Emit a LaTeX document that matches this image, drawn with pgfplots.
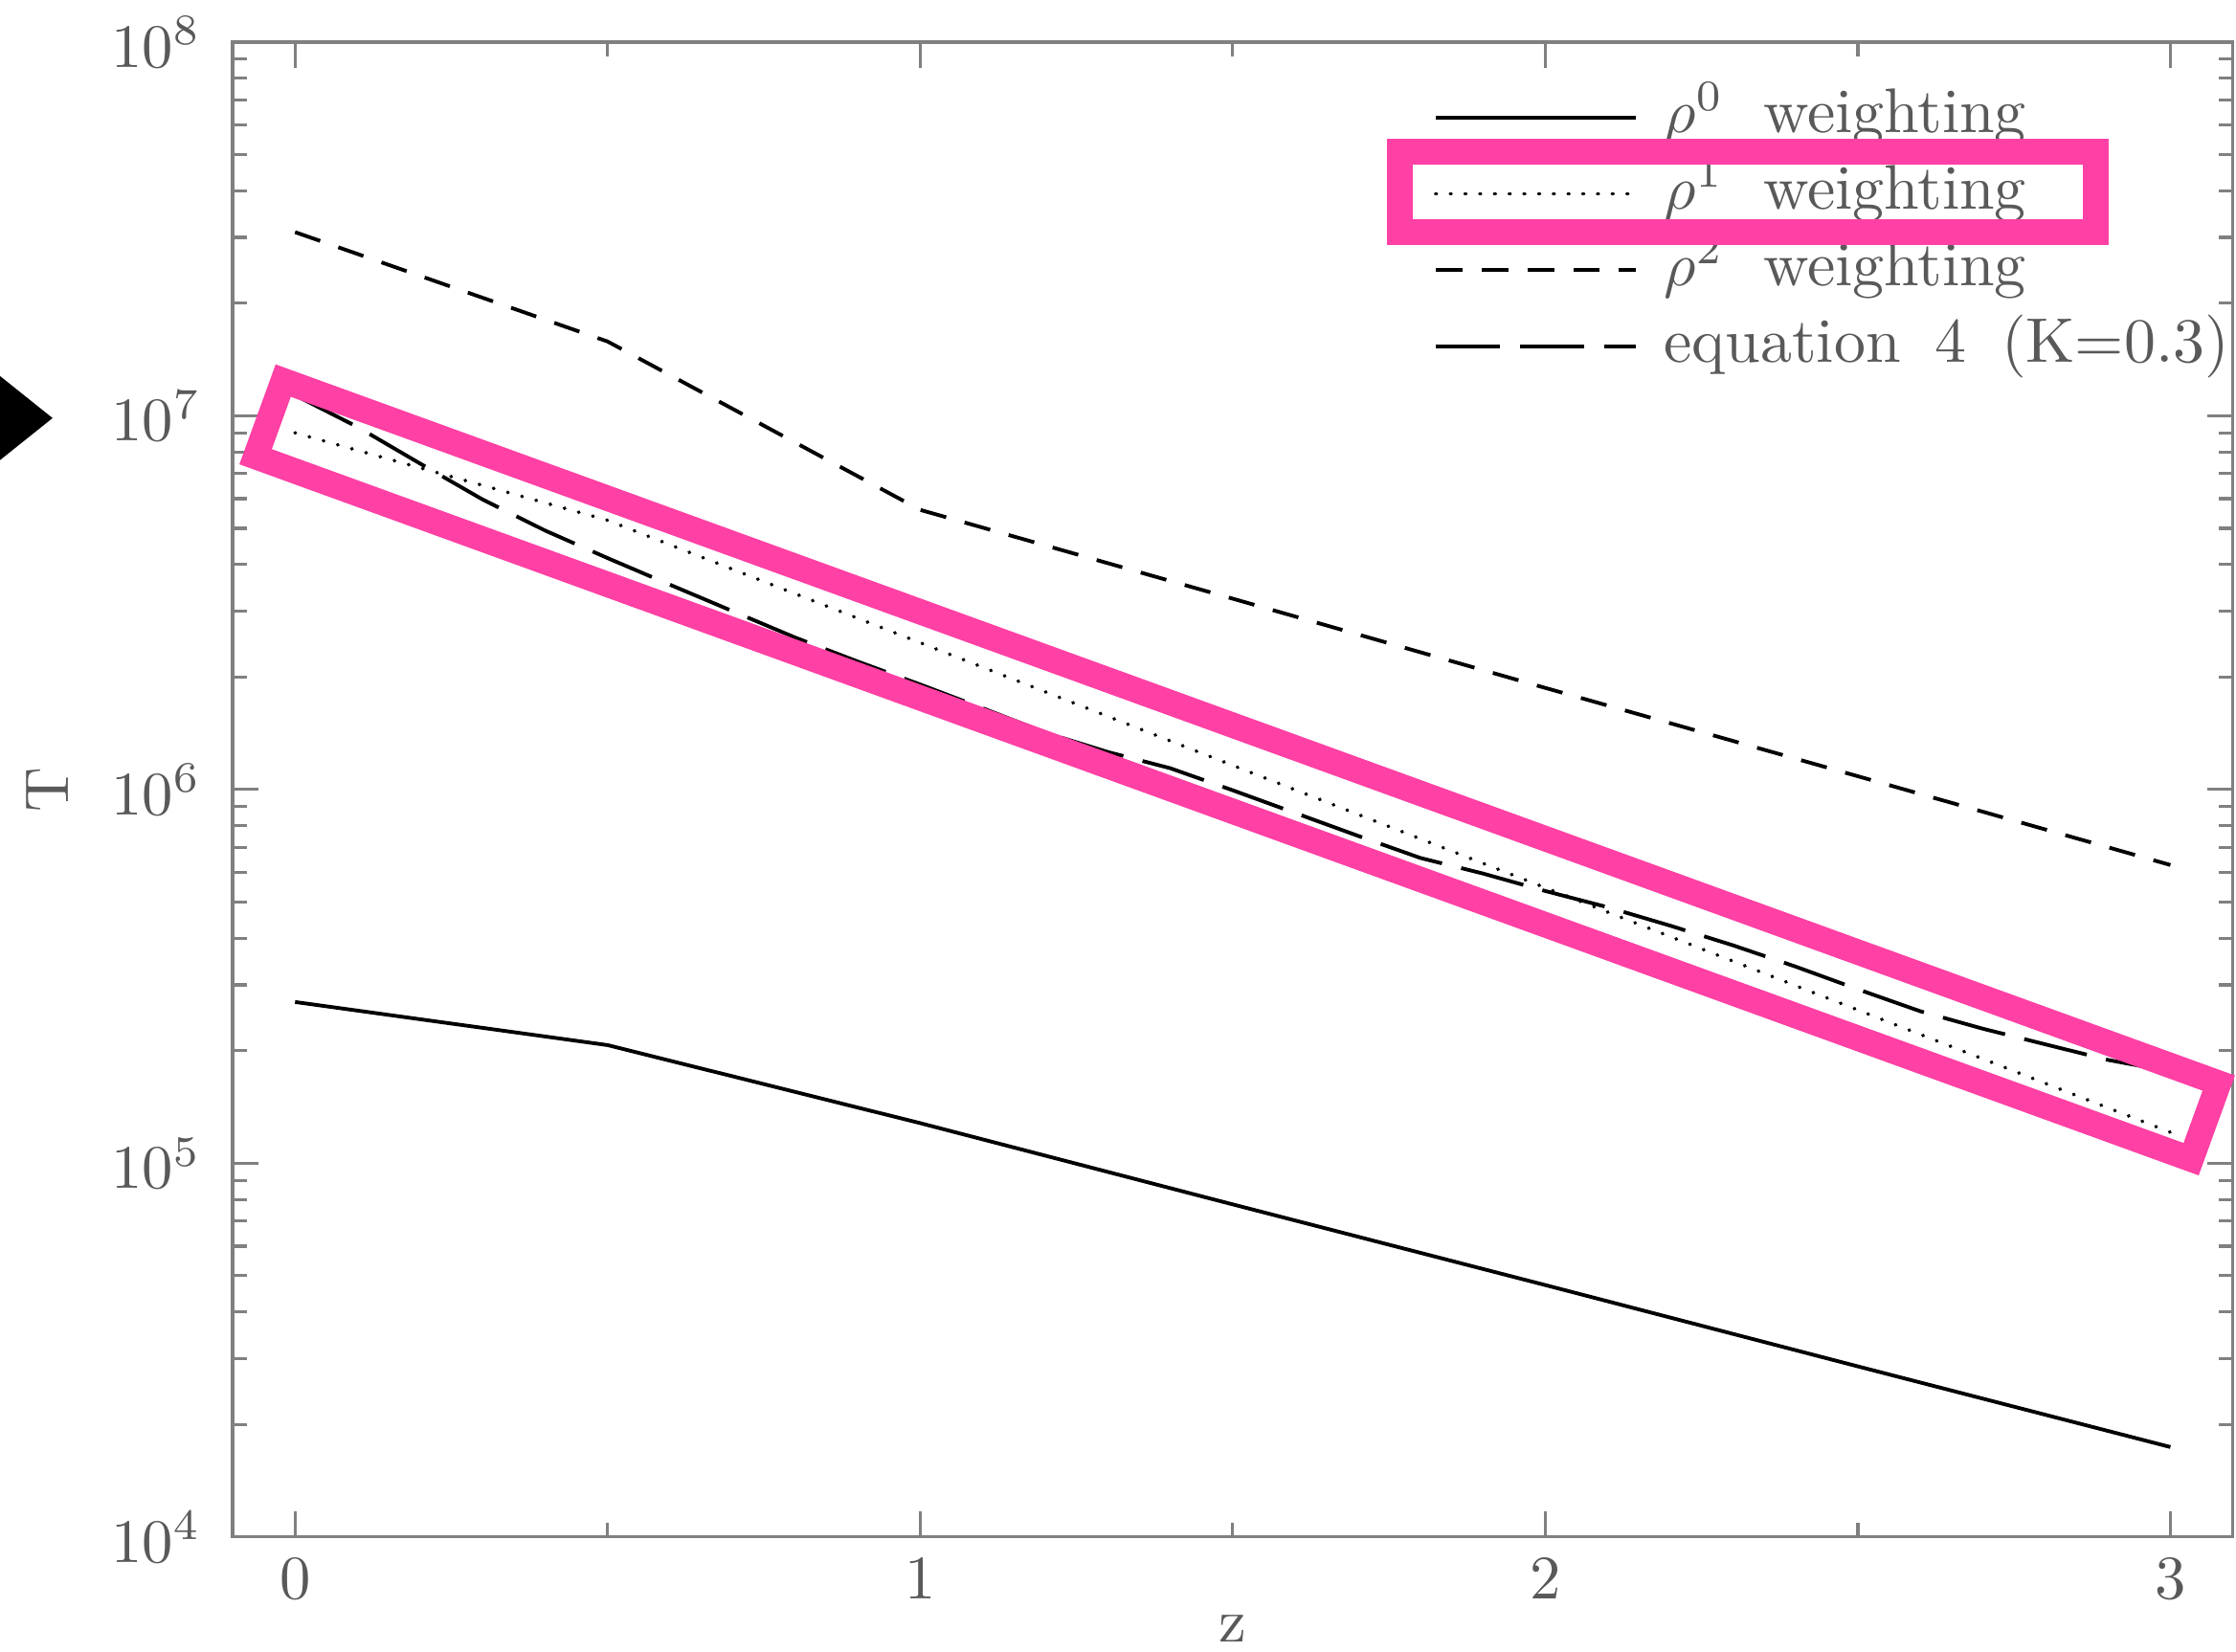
\documentclass[border=0pt]{standalone}
\usepackage{pgfplots}
\pgfplotsset{compat=1.18}
\definecolor{hl}{RGB}{255,64,164}
\definecolor{axgray}{gray}{0.5}
\definecolor{txtgray}{gray}{0.35}
\begin{document}
\begin{tikzpicture}
\begin{axis}[
  scale only axis, width=323.4pt, height=241.7pt,
  at={(0pt,0pt)}, anchor=south west,
  xmin=-0.1, xmax=3.1, ymin=1e4, ymax=1e8, ymode=log,
  xtick={0,1,2,3}, minor xtick={0.5,1.5,2.5},
  axis line style={axgray, line width=0.5pt},
  every tick/.style={axgray, line width=0.5pt},
  major tick length=4.2pt, minor tick length=2.3pt,
  tick align=inside,
  ticklabel style={text=txtgray, font=\fontsize{10}{12}\selectfont},
  yticklabel style={xshift=-1.6pt},
  xlabel={z}, ylabel={T},
  label style={text=txtgray},
  xlabel style={yshift=4.2pt},
  legend style={draw=none, fill=none, at={(0.6,0.969)}, anchor=north west,
    inner sep=0pt, row sep=3.35pt, column sep=4.3pt,
    nodes={inner sep=0pt, text height=7pt, text depth=2pt, text=txtgray,
      font=\fontsize{10.2}{12}\selectfont}},
  legend cell align=left,
  legend image code/.code={\draw[#1] (0pt,0pt) -- (32.3pt,0pt);},
]
\addplot[black, line width=0.6pt] coordinates {
 (0,2.70e5) (0.5,2.07e5) (1,1.28e5) (1.5,7.76e4) (2,4.72e4) (2.5,2.86e4) (3,1.74e4)};
\addlegendentry{$\rho^0$\hspace*{3pt} weighting}
\addplot[black, line width=0.6pt, line cap=round, dash pattern=on 0.05pt off 2.33pt] coordinates {
 (0,9.0e6) (0.5,5.25e6) (1,2.47e6) (1.5,1.16e6) (2,5.46e5) (2.5,2.57e5) (3,1.21e5)};
\addlegendentry{$\rho^1$\hspace*{3pt} weighting}
\addplot[black, line width=0.6pt, dash pattern=on 4.3pt off 3.1pt] coordinates {
 (0,3.10e7) (0.5,1.58e7) (1,5.60e6) (1.5,3.24e6) (2,1.87e6) (2.5,1.085e6) (3,6.28e5)};
\addlegendentry{$\rho^2$\hspace*{3pt} weighting}
\addplot[black, line width=0.6pt, dash pattern=on 10.4pt off 3.2pt] coordinates {
 (0,1.135e7) (0.1,9.33e6) (0.2,7.45e6) (0.3,5.97e6) (0.4,4.93e6) (0.5,4.16e6)
 (0.6,3.53e6) (0.7,3.00e6) (0.8,2.55e6) (0.9,2.20e6) (1.0,1.91e6) (1.1,1.65e6)
 (1.2,1.42e6) (1.3,1.26e6) (1.4,1.14e6) (1.5,9.95e5) (1.6,8.65e5) (1.7,7.52e5)
 (1.8,6.56e5) (1.9,5.96e5) (2.0,5.35e5) (2.1,4.84e5) (2.2,4.32e5) (2.3,3.83e5)
 (2.4,3.36e5) (2.5,2.92e5) (2.6,2.55e5) (2.7,2.29e5) (2.8,2.08e5) (2.9,1.89e5)
 (3.0,1.76e5)};
\addlegendentry{equation\hspace*{2.2pt} 4\hspace*{2.2pt} (K=0.3)}
\end{axis}
\begin{scope}[shift={(8.19pt,186.96pt)}, rotate=-19.95]
  \draw[hl, line width=4.09pt] (0pt,0pt) rectangle (332.9pt,-13.09pt);
\end{scope}
\draw[hl, line width=4.18pt] (188.72pt,224.0pt) rectangle (301.22pt,211.0pt);
\fill[black] (-37.6pt,187.7pt) -- (-29.1pt,180.9pt) -- (-37.6pt,174.1pt) -- cycle;
\pgfresetboundingbox
\useasboundingbox (-37.6pt,-18.57pt) rectangle (323.9pt,248.5pt);
\end{tikzpicture}
\end{document}
